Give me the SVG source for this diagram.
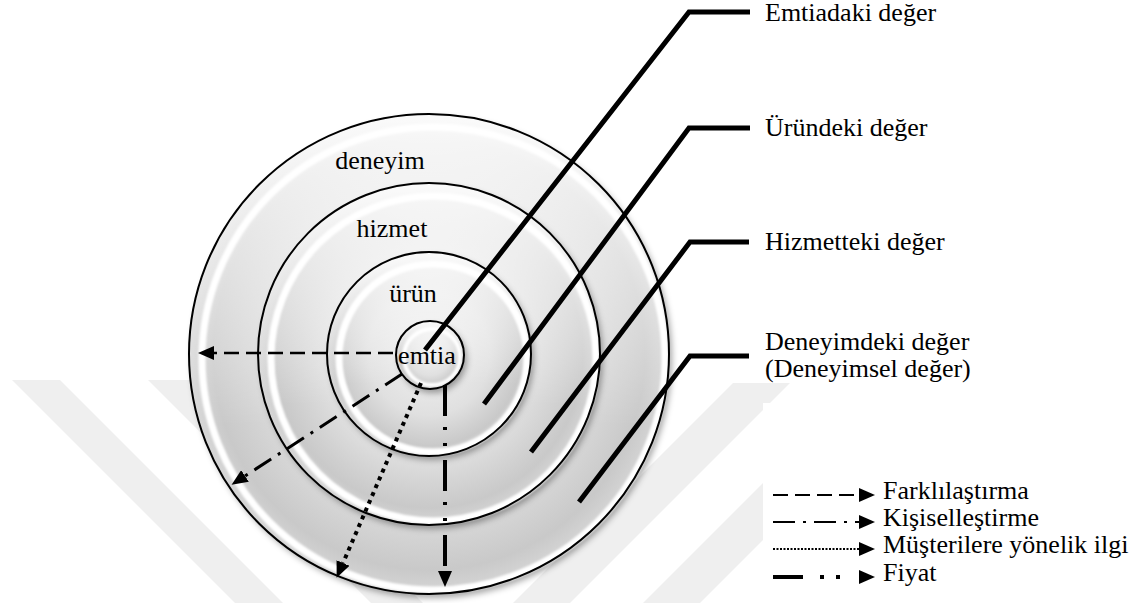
<svg xmlns="http://www.w3.org/2000/svg" width="1147" height="603" viewBox="0 0 1147 603" font-family="'Liberation Serif', 'Times New Roman', serif">
<defs>
<style>
text{font-family:'Liberation Serif','Times New Roman',serif;font-size:26px;fill:#000}
.lead{fill:none;stroke:#000;stroke-width:5;stroke-linejoin:miter;stroke-linecap:butt}
.edge{fill:none;stroke:#000;stroke-width:2}
.ring{fill:none;stroke:#fff;stroke-width:7;filter:url(#soft)}
.wm{fill:#efefef}
.arr{fill:none;stroke:#000;marker-end:url(#ah)}
.disc{fill:url(#disc);filter:url(#shadow)}
.sheen{fill:url(#sheen)}
</style>
<radialGradient id="disc" cx="0.5" cy="0.5" r="0.5">
<stop offset="0" stop-color="#f2f2f2"/>
<stop offset="0.6" stop-color="#e0e0e0"/>
<stop offset="0.9" stop-color="#c9c9c9"/>
<stop offset="1" stop-color="#d6d6d6"/>
</radialGradient>
<linearGradient id="sheen" x1="0" y1="0" x2="0" y2="1">
<stop offset="0" stop-color="#fff" stop-opacity="0.9"/>
<stop offset="0.4" stop-color="#fff" stop-opacity="0.35"/>
<stop offset="0.65" stop-color="#fff" stop-opacity="0"/>
<stop offset="1" stop-color="#fff" stop-opacity="0"/>
</linearGradient>
<filter id="shadow" x="-10%" y="-10%" width="125%" height="125%">
<feDropShadow dx="3" dy="4" stdDeviation="3" flood-color="#000" flood-opacity="0.35"/>
</filter>
<filter id="soft" x="-20%" y="-20%" width="140%" height="140%">
<feGaussianBlur stdDeviation="1"/>
</filter>
<marker id="ah" viewBox="0 0 16 14" markerWidth="16" markerHeight="14" refX="0" refY="7" orient="auto" markerUnits="userSpaceOnUse">
<path d="M0,0 L16,7 L0,14 Z" fill="#000" stroke="none"/>
</marker>
</defs>

<g id="watermark">
<polygon class="wm" points="12,380 60,380 283,603 235,603"/>
<polygon class="wm" points="148,380 200,380 423,603 371,603"/>
<polygon class="wm" points="733,383 790,383 560,613 503,613"/>
<polygon class="wm" points="763,483 763,540 700,603 643,603"/>
<rect x="763" y="403" width="384" height="200" fill="#fff"/>
</g>

<g id="deneyim">
<circle class="disc" cx="429" cy="354" r="240"/>
<circle class="sheen" cx="429" cy="354" r="240"/>
<circle class="ring" cx="433.5" cy="358.5" r="231.5"/>
<circle class="edge" cx="429" cy="354" r="240"/>
<text x="380" y="169" text-anchor="middle">deneyim</text>
</g>

<g id="hizmet">
<circle class="disc" cx="429" cy="354" r="171"/>
<circle class="sheen" cx="429" cy="354" r="171"/>
<circle class="ring" cx="433.5" cy="358.5" r="162.5"/>
<circle class="edge" cx="429" cy="354" r="171"/>
<text x="392" y="237" text-anchor="middle">hizmet</text>
</g>

<g id="urun">
<circle class="disc" cx="429" cy="354" r="102"/>
<circle class="sheen" cx="429" cy="354" r="102"/>
<circle class="ring" cx="433" cy="358" r="94"/>
<circle class="edge" cx="429" cy="354" r="102"/>
<text x="413" y="302" text-anchor="middle">ürün</text>
</g>

<g id="emtia">
<circle class="disc" cx="430" cy="355" r="34"/>
<circle class="sheen" cx="430" cy="355" r="34"/>
<circle class="ring" cx="432" cy="357" r="28" style="stroke-width:4"/>
<circle class="edge" cx="430" cy="355" r="34"/>
<text x="427" y="364" text-anchor="middle">emtia</text>
</g>

<g id="connectors">
<path class="lead" d="M425,350 L689,12 L750,12"/>
<path class="lead" d="M484,404 L689,128 L750,128"/>
<path class="lead" d="M531,452 L690,242 L749,242"/>
<path class="lead" d="M579,502 L690,356 L749,356"/>
<path class="arr" d="M393,353 L214,353" stroke-width="2.5" stroke-dasharray="15 7"/>
<path class="arr" d="M402,374 L245,476" stroke-width="3" stroke-dasharray="20 8 3 8"/>
<path class="arr" d="M421,383 L343,563" stroke-width="4" stroke-dasharray="4 4.5"/>
<path class="arr" d="M445,385 L445,571" stroke-width="4" stroke-dasharray="31 11 3 13 3 14"/>
</g>

<g id="labels">
<text x="765" y="21">Emtiadaki değer</text>
<text x="765" y="136">Üründeki değer</text>
<text x="765" y="250">Hizmetteki değer</text>
<text x="765" y="350">Deneyimdeki değer</text>
<text x="765" y="377">(Deneyimsel değer)</text>
</g>

<g id="legend">
<path class="arr" d="M773,495 L859,495" stroke-width="2" stroke-dasharray="15 7"/>
<text x="883" y="499">Farklılaştırma</text>
<path class="arr" d="M773,522 L859,522" stroke-width="2" stroke-dasharray="22 8 3 8"/>
<text x="883" y="526">Kişiselleştirme</text>
<path class="arr" d="M773,549 L859,549" stroke-width="2" stroke-dasharray="2 1.5"/>
<text x="883" y="553">Müşterilere yönelik ilgi</text>
<path class="arr" d="M773,577 L859,577" stroke-width="4" stroke-dasharray="30 17 4 12 4 40"/>
<text x="883" y="581">Fiyat</text>
</g>
</svg>
